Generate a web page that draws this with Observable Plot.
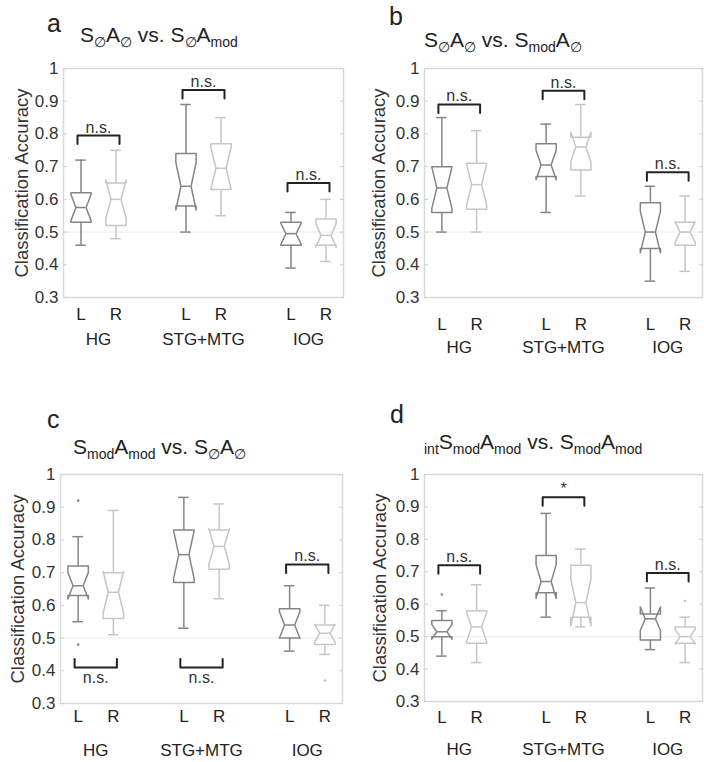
<!DOCTYPE html>
<html>
<head>
<meta charset="utf-8">
<script src="https://cdn.jsdelivr.net/npm/d3@7"></script>
<script src="https://cdn.jsdelivr.net/npm/@observablehq/plot@0.6"></script>
<style>
  body { margin: 0; background: #fff; font-family: "Liberation Sans", Arial, sans-serif; }
  #root { position: relative; width: 704px; height: 762px; overflow: hidden; }
  .panel { position: absolute; width: 352px; height: 381px; }
  .panel svg { position: absolute; left: 0; top: 0; overflow: visible; }
  .letter { position: absolute; font-size: 25px; line-height: 1; color: #222; }
  .title { position: absolute; font-size: 21px; line-height: 1; color: #222; white-space: nowrap; }
  .title sub { font-size: 14px; line-height: 0; vertical-align: -5px; }
</style>
</head>
<body>
<div id="root"></div>
<script>
// ---------- data ----------
const regions = ["HG", "STG+MTG", "IOG"];
const hemis = ["L", "R", "L", "R", "L", "R"];
const xPos = [1, 2, 4, 5, 7, 8];          // box positions (L/R pairs per region)
const regionPos = [1.5, 4.5, 7.5];
const yTicks = [0.3, 0.4, 0.5, 0.6, 0.7, 0.8, 0.9, 1];
const chance = [0.5];
const nSubjects = 12;                     // notch = median ± 1.57·IQR/√n

// five-number summaries: [whisker low, Q1, median, Q3, whisker high]
const statsA = [
  [0.46, 0.53, 0.575, 0.62, 0.72],
  [0.48, 0.52, 0.60, 0.65, 0.75],
  [0.50, 0.58, 0.64, 0.74, 0.89],
  [0.55, 0.63, 0.695, 0.77, 0.85],
  [0.39, 0.46, 0.495, 0.53, 0.56],
  [0.41, 0.46, 0.49, 0.54, 0.60]
];
const statsB = [
  [0.50, 0.56, 0.635, 0.70, 0.85],
  [0.50, 0.57, 0.645, 0.71, 0.81],
  [0.56, 0.67, 0.705, 0.77, 0.83],
  [0.61, 0.69, 0.76, 0.79, 0.89],
  [0.35, 0.45, 0.50, 0.59, 0.64],
  [0.38, 0.46, 0.50, 0.53, 0.61]
];
const statsC = [
  [0.55, 0.63, 0.66, 0.72, 0.81],
  [0.51, 0.56, 0.64, 0.70, 0.89],
  [0.53, 0.67, 0.755, 0.83, 0.93],
  [0.62, 0.71, 0.78, 0.83, 0.91],
  [0.46, 0.50, 0.54, 0.59, 0.66],
  [0.45, 0.48, 0.515, 0.54, 0.60]
];
const statsD = [
  [0.44, 0.50, 0.515, 0.55, 0.58],
  [0.42, 0.48, 0.53, 0.58, 0.66],
  [0.56, 0.635, 0.67, 0.75, 0.88],
  [0.53, 0.56, 0.605, 0.72, 0.77],
  [0.46, 0.49, 0.555, 0.57, 0.65],
  [0.42, 0.48, 0.50, 0.53, 0.56]
];
// outliers: [box index, value]
const outliersA = [];
const outliersB = [];
const outliersC = [[0, 0.92], [0, 0.48], [5, 0.37]];
const outliersD = [[0, 0.63], [5, 0.61]];

// significance brackets per region: y level, direction (1 = above, -1 = below), label
const sigYA = [0.795, 0.934, 0.65],  sigDirA = [1, 1, 1],   sigTextA = ["n.s.", "n.s.", "n.s."];
const sigYB = [0.89, 0.932, 0.683],  sigDirB = [1, 1, 1],   sigTextB = ["n.s.", "n.s.", "n.s."];
const sigYC = [0.41, 0.41, 0.725],   sigDirC = [-1, -1, 1], sigTextC = ["n.s.", "n.s.", "n.s."];
const sigYD = [0.72, 0.93, 0.696],   sigDirD = [1, 1, 1],   sigTextD = ["n.s.", "*", "n.s."];

const titles = [
  "S<sub>∅</sub>A<sub>∅</sub> vs. S<sub>∅</sub>A<sub>mod</sub>",
  "S<sub>∅</sub>A<sub>∅</sub> vs. S<sub>mod</sub>A<sub>∅</sub>",
  "S<sub>mod</sub>A<sub>mod</sub> vs. S<sub>∅</sub>A<sub>∅</sub>",
  "<sub>int</sub>S<sub>mod</sub>A<sub>mod</sub> vs. S<sub>mod</sub>A<sub>mod</sub>"
];
const letters = ["a", "b", "c", "d"];
const yLabel = "Classification Accuracy";

// ---------- style / layout ----------
const FONT = "Liberation Sans, Arial, sans-serif";
const boxHalf = 0.29, capHalf = 0.15, bracketHalf = 0.6, bracketTick = 0.026;
const colorL = "#858585", colorR = "#c6c6c6";

const panels = [
  {stats: statsA, out: outliersA, sigY: sigYA, sigDir: sigDirA, sigText: sigTextA,
   left: 0, top: 0, m: {t: 68, b: 84, l: 63, r: 9}, lrDy: 10, grpDy: 35, ylDx: -41,
   letter: {x: 47, y: 11}, title: {x: 80, y: 24}},
  {stats: statsB, out: outliersB, sigY: sigYB, sigDir: sigDirB, sigText: sigTextB,
   left: 352, top: 0, m: {t: 68, b: 84, l: 72, r: 2}, lrDy: 20, grpDy: 43, ylDx: -45,
   letter: {x: 37, y: 4}, title: {x: 72, y: 29}},
  {stats: statsC, out: outliersC, sigY: sigYC, sigDir: sigDirC, sigText: sigTextC,
   left: 0, top: 381, m: {t: 93, b: 59, l: 60, r: 10}, lrDy: 6, grpDy: 40, ylDx: -42,
   letter: {x: 47, y: 26}, title: {x: 73, y: 55}},
  {stats: statsD, out: outliersD, sigY: sigYD, sigDir: sigDirD, sigText: sigTextD,
   left: 352, top: 381, m: {t: 93, b: 61, l: 72, r: 2}, lrDy: 9, grpDy: 41, ylDx: -44,
   letter: {x: 38, y: 21}, title: {x: 72, y: 50}}
];

const notchK = 1.57 / Math.sqrt(nSubjects);

function boxOutline(stats) {
  const pts = [];
  stats.forEach(([lo, q1, med, q3, hi], i) => {
    const x = xPos[i], w = boxHalf, wn = boxHalf * 0.5;
    const nh = notchK * (q3 - q1);
    [[x - w, q1], [x - w, med - nh], [x - wn, med], [x - w, med + nh], [x - w, q3],
     [x + w, q3], [x + w, med + nh], [x + wn, med], [x + w, med - nh], [x + w, q1], [x - w, q1]]
      .forEach(([px, py]) => pts.push({x: px, y: py, box: i, side: hemis[i]}));
  });
  return pts;
}

function whiskers(stats) {
  const r = [];
  stats.forEach(([lo, q1, med, q3, hi], i) => {
    r.push({x: xPos[i], y1: q3, y2: hi, side: hemis[i]});
    r.push({x: xPos[i], y1: lo, y2: q1, side: hemis[i]});
  });
  return r;
}

function hlines(stats) {
  const r = [];
  stats.forEach(([lo, q1, med, q3, hi], i) => {
    const x = xPos[i];
    r.push({y: hi, x1: x - capHalf, x2: x + capHalf, side: hemis[i]});
    r.push({y: lo, x1: x - capHalf, x2: x + capHalf, side: hemis[i]});
    r.push({y: med, x1: x - boxHalf * 0.5, x2: x + boxHalf * 0.5, side: hemis[i]});
  });
  return r;
}

function brackets(p) {
  const pts = [];
  regions.forEach((g, k) => {
    const c = regionPos[k], y = p.sigY[k], t = y - p.sigDir[k] * bracketTick;
    [[c - bracketHalf, t], [c - bracketHalf, y], [c + bracketHalf, y], [c + bracketHalf, t]]
      .forEach(([px, py]) => pts.push({x: px, y: py, k}));
  });
  return pts;
}

const root = document.getElementById("root");

panels.forEach((p, idx) => {
  const div = document.createElement("div");
  div.className = "panel";
  div.style.left = p.left + "px";
  div.style.top = p.top + "px";

  const sigData = regions.map((g, k) => ({x: regionPos[k], y: p.sigY[k], dir: p.sigDir[k], text: p.sigText[k]}));
  const outData = p.out.map(([i, v]) => ({x: xPos[i], y: v, side: hemis[i]}));

  const chart = Plot.plot({
    width: 352,
    height: 381,
    marginTop: p.m.t, marginBottom: p.m.b, marginLeft: p.m.l, marginRight: p.m.r,
    x: {domain: [0.5, 8.5], axis: null},
    y: {domain: [0.3, 1]},
    color: {domain: ["L", "R"], range: [colorL, colorR]},
    style: {fontFamily: FONT, fontSize: "17px", color: "#333", background: "transparent", overflow: "visible"},
    marks: [
      Plot.frame({stroke: "#dadada", strokeWidth: 1.5}),
      Plot.ruleY(chance, {stroke: "#ebebeb", strokeWidth: 1}),
      Plot.axisY({anchor: "left", ticks: yTicks, tickSize: -4, tickPadding: 9, stroke: "#d0d0d0",
        tickFormat: d => d === 1 ? "1" : d.toFixed(1), fill: "#333"}),
      Plot.axisY({anchor: "right", ticks: yTicks, tickSize: -4, stroke: "#d0d0d0", tickFormat: () => ""}),
      Plot.ruleX(whiskers(p.stats), {x: "x", y1: "y1", y2: "y2", stroke: "side", strokeWidth: 1.5}),
      Plot.ruleY(hlines(p.stats), {y: "y", x1: "x1", x2: "x2", stroke: "side", strokeWidth: 1.5}),
      Plot.line(boxOutline(p.stats), {x: "x", y: "y", z: "box", stroke: "side", strokeWidth: 1.5, curve: "linear"}),
      Plot.dot(outData, {x: "x", y: "y", fill: "side", r: 1.3}),
      Plot.line(brackets(p), {x: "x", y: "y", z: "k", stroke: "#222", strokeWidth: 2}),
      Plot.text(sigData.filter(d => d.dir > 0), {x: "x", y: "y", text: "text", lineAnchor: "bottom", dy: -3,
        fontSize: 16, fill: "#333"}),
      Plot.text(sigData.filter(d => d.dir < 0), {x: "x", y: "y", text: "text", lineAnchor: "top", dy: 4,
        fontSize: 16, fill: "#333"}),
      Plot.text(hemis, {x: (d, i) => xPos[i], frameAnchor: "bottom", lineAnchor: "top", dy: p.lrDy,
        fontSize: 17, fill: "#222"}),
      Plot.text(regions, {x: (d, i) => regionPos[i], frameAnchor: "bottom", lineAnchor: "top", dy: p.grpDy,
        fontSize: 17, fill: "#222"}),
      Plot.text([yLabel], {frameAnchor: "left", textAnchor: "middle", lineAnchor: "middle", dx: p.ylDx,
        rotate: -90, fontSize: 18.5, fill: "#333"})
    ]
  });
  div.appendChild(chart);

  const L = document.createElement("div");
  L.className = "letter";
  L.textContent = letters[idx];
  L.style.left = p.letter.x + "px";
  L.style.top = p.letter.y + "px";
  div.appendChild(L);

  const T = document.createElement("div");
  T.className = "title";
  T.innerHTML = titles[idx];
  T.style.left = p.title.x + "px";
  T.style.top = p.title.y + "px";
  div.appendChild(T);

  root.appendChild(div);
});
</script>
</body>
</html>
